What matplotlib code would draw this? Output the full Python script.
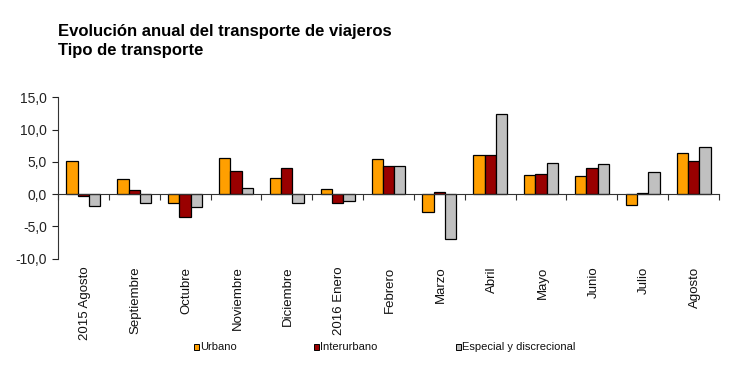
import matplotlib
matplotlib.use("Agg")
import matplotlib.pyplot as plt
from matplotlib.patches import Rectangle
from matplotlib.ticker import FuncFormatter, FixedLocator
import matplotlib.transforms as mtransforms
import numpy as np

plt.rcParams['font.family'] = ['Liberation Sans', 'DejaVu Sans']

categories = ["2015 Agosto", "Septiembre", "Octubre", "Noviembre", "Diciembre",
              "2016 Enero", "Febrero", "Marzo", "Abril", "Mayo", "Junio", "Julio", "Agosto"]
urbano = [5.2, 2.3, -1.3, 5.6, 2.5, 0.8, 5.5, -2.7, 6.0, 2.9, 2.8, -1.7, 6.3]
interurbano = [-0.3, 0.7, -3.6, 3.6, 4.0, -1.4, 4.3, 0.3, 6.1, 3.1, 4.1, 0.1, 5.1]
especial = [-1.8, -1.3, -2.0, 1.0, -1.4, -1.0, 4.3, -6.9, 12.4, 4.8, 4.6, 3.4, 7.3]
series_names = ["Urbano", "Interurbano", "Especial y discrecional"]
colors = ["#FF9F00", "#990000", "#C0C0C0"]
title_lines = ["Evolución anual del transporte de viajeros", "Tipo de transporte"]

fig = plt.figure(figsize=(7.5, 3.74), dpi=100)
ax = fig.add_axes([0.0773, 0.3083, 0.9587 - 0.0773, 0.7398 - 0.3083])

n = len(categories)
x = np.arange(n) + 0.5
w = 0.222
for k, (vals, c) in enumerate(zip([urbano, interurbano, especial], colors)):
    ax.bar(x + (k - 1) * w, vals, width=w, color=c, edgecolor="black", linewidth=0.9, zorder=2)

ax.set_xlim(0, n)
ax.set_ylim(-10, 15)
ax.set_yticks([-10, -5, 0, 5, 10, 15])
ax.yaxis.set_major_formatter(FuncFormatter(lambda v, p: f"{v:.1f}".replace(".", ",")))
ax.tick_params(axis="y", direction="out", length=4, width=0.8, labelsize=10, colors="#222222", pad=4)

for s in ["top", "right"]:
    ax.spines[s].set_visible(False)
ax.spines["left"].set_color("#333333")
ax.spines["left"].set_linewidth(0.8)
ax.spines["bottom"].set_position(("data", 0))
ax.spines["bottom"].set_color("#333333")
ax.spines["bottom"].set_linewidth(0.8)
ax.xaxis.set_major_locator(FixedLocator(np.arange(n + 1)))
ax.tick_params(axis="x", direction="out", length=4, width=0.8, labelbottom=False, colors="#333333")

# category labels below plot area
trans = mtransforms.blended_transform_factory(ax.transData, fig.transFigure)
for xi, lab in zip(x, categories):
    ax.text(xi + 0.03, 1 - 266.5 / 374, lab, rotation=90, ha="center", va="top",
            fontsize=9.5, transform=trans, color="#111111")

# title
fig.text(0.0773, 1 - 36 / 374, title_lines[0], fontsize=12, fontweight="bold", va="baseline")
fig.text(0.0773, 1 - 55 / 374, title_lines[1], fontsize=12, fontweight="bold", va="baseline")

# legend
leg_x = [193.5, 313.5, 456]
for lx, name, c in zip(leg_x, series_names, colors):
    fig.add_artist(Rectangle((lx / 750, 1 - 350 / 374), 5 / 750, 6 / 374, transform=fig.transFigure,
                             facecolor=c, edgecolor="black", linewidth=0.7))
    fig.text((lx + 6.5) / 750, 1 - 347 / 374, name, fontsize=8, va="center", ha="left", color="#111111")

fig.savefig("out.png", dpi=100)
